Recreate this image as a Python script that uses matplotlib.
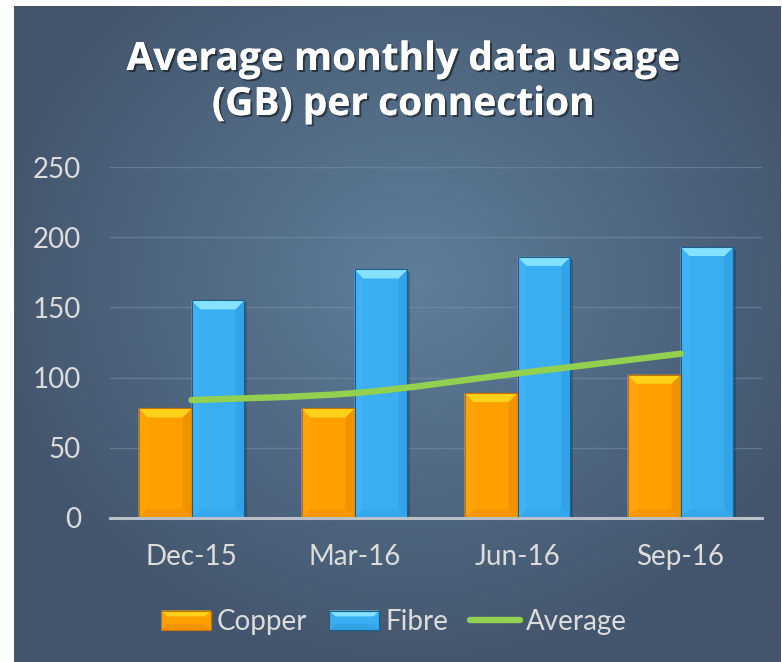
import numpy as np
import matplotlib
matplotlib.use("Agg")
import matplotlib.pyplot as plt
from matplotlib.patches import Polygon, Rectangle, Patch
from matplotlib.lines import Line2D
from matplotlib.path import Path
from matplotlib.patches import PathPatch
from matplotlib.legend_handler import HandlerBase
import matplotlib.patheffects as pe

categories = ["Dec-15", "Mar-16", "Jun-16", "Sep-16"]
copper = [78, 78, 89, 102]
fibre = [155, 177, 186, 193]
average = [84, 89, 103, 117]
yticks = [0, 50, 100, 150, 200, 250]
title = "Average monthly data usage\n(GB) per connection"

FONT = ["Lato", "DejaVu Sans"]
plt.rcParams['font.family'] = FONT
TXT = "#dcdcdc"

W, H = 782, 662
fig = plt.figure(figsize=(W / 100, H / 100), dpi=100)
fig.patch.set_facecolor("white")

# background panel with radial gradient
bg = fig.add_axes([14 / W, 0, 767 / W, 656 / H])
bg.set_axis_off()
nx, ny = 400, 340
xx, yy = np.meshgrid(np.linspace(0, 1, nx), np.linspace(0, 1, ny))
r = np.sqrt(((xx - 0.52) / 0.75) ** 2 + ((yy - 0.42) / 0.8) ** 2)
r = np.clip(r / 0.75, 0, 1)
c_in = np.array([0x5f, 0x7e, 0x9b]) / 255
c_out = np.array([0x43, 0x55, 0x6c]) / 255
img = c_in[None, None, :] * (1 - r[..., None]) + c_out[None, None, :] * r[..., None]
bg.imshow(img, aspect="auto", extent=[0, 1, 0, 1], origin="upper")
bg.set_xlim(0, 1)
bg.set_ylim(0, 1)

ax = fig.add_axes([110 / W, 1 - 518 / H, 652 / W, 351 / H])
ax.set_facecolor("none")
x = np.arange(len(categories))
bw = 0.325
ax.set_xlim(-0.5, len(categories) - 0.5)
ax.set_ylim(0, 250)

for s in ["top", "right", "left"]:
    ax.spines[s].set_visible(False)
ax.spines["bottom"].set_color("#b9c0c8")
ax.spines["bottom"].set_linewidth(2.2)
ax.spines["bottom"].set_zorder(5)
ax.set_yticks(yticks)
ax.yaxis.grid(True, color="#7890a8", linewidth=1.0, alpha=0.55)
ax.set_axisbelow(True)
ax.tick_params(axis="y", length=0, pad=21, labelsize=20, labelcolor=TXT)
ax.set_xticks(x)
ax.set_xticklabels(categories)
ax.tick_params(axis="x", length=0, pad=19, labelsize=20, labelcolor=TXT)

orange = dict(main="#ffa000", top="#ffd21a", left="#ffa408", right="#f39200",
              bottom="#f59800", edge="#c87000")
blue = dict(main="#3aaef2", top="#84e2ff", left="#3eb2f4", right="#33a2e6",
            bottom="#36a8ec", edge="#1d5f8c")

bars_c = ax.bar(x - bw / 2, copper, bw, color=orange["main"], zorder=2,
                edgecolor=orange["edge"], linewidth=0.8)
bars_f = ax.bar(x + bw / 2, fibre, bw, color=blue["main"], zorder=2,
                edgecolor=blue["edge"], linewidth=0.8)

# pixel -> data conversion for bevel
p0 = ax.transData.transform((0, 0))
p1 = ax.transData.transform((1, 1))
pxx, pxy = p1[0] - p0[0], p1[1] - p0[1]
bpx = 9
bx, by = bpx / pxx, bpx / pxy


def bevel(rect, col):
    x0, y0 = rect.get_x(), rect.get_y()
    w, h = rect.get_width(), rect.get_height()
    x1, y1 = x0 + w, y0 + h
    # drop shadow
    ax.add_patch(Rectangle((x1, y0), 3 / pxx, h - 3 / pxy, color="black",
                           alpha=0.18, zorder=1.9, linewidth=0))
    polys = [
        ([(x0, y0), (x0, y1), (x0 + bx, y1 - by), (x0 + bx, y0 + by)], col["left"]),
        ([(x1, y0), (x1, y1), (x1 - bx, y1 - by), (x1 - bx, y0 + by)], col["right"]),
        ([(x0, y0), (x1, y0), (x1 - bx, y0 + by), (x0 + bx, y0 + by)], col["bottom"]),
        ([(x0, y1), (x1, y1), (x1 - bx, y1 - by), (x0 + bx, y1 - by)], col["top"]),
    ]
    for pts, c in polys:
        ax.add_patch(Polygon(pts, closed=True, facecolor=c, edgecolor="none",
                             zorder=2.1))
    ax.add_patch(Rectangle((x0, y0), w, h, facecolor="none", edgecolor=col["edge"],
                           linewidth=0.8, zorder=2.2))


for b in bars_c:
    bevel(b, orange)
for b in bars_f:
    bevel(b, blue)

# smoothed average line (Catmull-Rom as Bezier segments)
pts = np.column_stack([x, average]).astype(float)
verts = [tuple(pts[0])]
codes = [Path.MOVETO]
n = len(pts)
for i in range(n - 1):
    pm = pts[i - 1] if i > 0 else pts[i]
    p_a, p_b = pts[i], pts[i + 1]
    pn = pts[i + 2] if i + 2 < n else pts[i + 1]
    c1 = p_a + (p_b - pm) / 6
    c2 = p_b - (pn - p_a) / 6
    verts += [tuple(c1), tuple(c2), tuple(p_b)]
    codes += [Path.CURVE4] * 3
ax.add_patch(PathPatch(Path(verts, codes), facecolor="none", edgecolor="#92d050",
                       linewidth=4.6, capstyle="round", zorder=3))

# title
fig.text(403 / W, 1 - 82 / H, title, ha="center", va="center", fontsize=28,
         fontweight="bold", color="white", linespacing=1.2,
         family=["Open Sans", "DejaVu Sans"],
         path_effects=[pe.withSimplePatchShadow(offset=(1.5, -1.5), alpha=0.45,
                                                shadow_rgbFace="black"),
                       pe.Normal()])


class BevelHandler(HandlerBase):
    def __init__(self, col):
        super().__init__()
        self.col = col

    def create_artists(self, legend, orig_handle, xdescent, ydescent, width,
                       height, fontsize, trans):
        x0, y0 = -xdescent, -ydescent
        x1, y1 = x0 + width, y0 + height
        b = height * 0.3
        col = self.col
        arts = [Rectangle((x0, y0), width, height, facecolor=col["main"],
                          edgecolor=col["edge"], linewidth=0.8, transform=trans),
                Polygon([(x0, y1), (x1, y1), (x1 - b, y1 - b), (x0 + b, y1 - b)],
                        facecolor=col["top"], edgecolor="none", transform=trans),
                Polygon([(x0, y0), (x1, y0), (x1 - b, y0 + b), (x0 + b, y0 + b)],
                        facecolor=col["right"], edgecolor="none", transform=trans),
                Rectangle((x0, y0), width, height, facecolor="none",
                          edgecolor=col["edge"], linewidth=0.8, transform=trans)]
        return arts


h_c = Patch(label="Copper")
h_f = Patch(label="Fibre")
h_a = Line2D([], [], color="#92d050", linewidth=4.6, solid_capstyle="round",
             label="Average")
leg = fig.legend(handles=[h_c, h_f, h_a], labels=["Copper", "Fibre", "Average"],
                 handler_map={h_c: BevelHandler(orange), h_f: BevelHandler(blue)},
                 loc="center", bbox_to_anchor=(394 / W, 1 - 622 / H), ncol=3,
                 frameon=False, fontsize=20, handlelength=1.8, handleheight=0.7,
                 handletextpad=0.2, columnspacing=0.8, labelcolor=TXT)

fig.savefig("out.png", dpi=100)
